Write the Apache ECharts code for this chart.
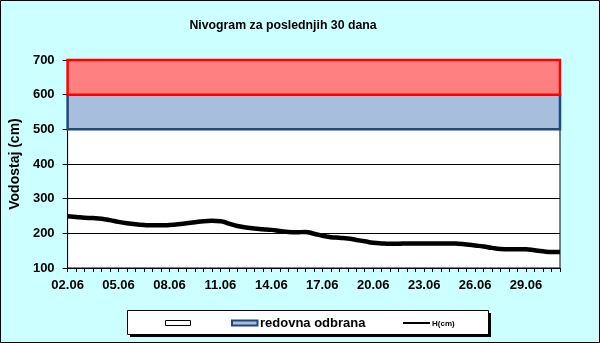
<!DOCTYPE html>
<html>
<head>
<meta charset="utf-8">
<title>Nivogram za poslednjih 30 dana</title>
<script src="https://cdn.jsdelivr.net/npm/echarts@6/dist/echarts.min.js"></script>
<style>
  html, body { margin: 0; padding: 0; background: #ccffff; }
  #chart { width: 600px; height: 343px; }
</style>
</head>
<body>
<div id="chart"></div>
<script>
// Daily dates of the 30-day window; readings are taken twice a day (00h and 12h)
const days = ['02.06','03.06','04.06','05.06','06.06','07.06','08.06','09.06','10.06','11.06',
              '12.06','13.06','14.06','15.06','16.06','17.06','18.06','19.06','20.06','21.06',
              '22.06','23.06','24.06','25.06','26.06','27.06','28.06','29.06','30.06','01.07'];
const readingHours = ['00h', '12h'];

// Water level H (cm), one value per reading
const levels = [249, 247, 245, 244, 242, 238, 233, 229, 226, 224,
                223, 223, 224, 226, 229, 232, 235, 236, 235, 228,
                221, 217, 214, 212, 210, 207, 204, 203, 204, 199,
                193, 189, 187, 185, 181, 177, 173, 171, 170, 170,
                171, 171, 171, 171, 171, 171, 170, 168, 165, 162,
                158, 155, 154, 154, 154, 151, 148, 146, 146];

// Alert bands (cm)
const regularDefence = [500, 600];   // redovna odbrana
const emergencyDefence = [600, 700];

// Value axis
const yMin = 100, yMax = 700, yStep = 100;

const categories = [];
days.forEach((d, i) => {
  readingHours.forEach((h, j) => {
    if (i < days.length - 1 || j === 0) categories.push(d + ' ' + h);
  });
});

const FONT = '"Liberation Sans", Arial, sans-serif';
const chart = echarts.init(document.getElementById('chart'), null, { renderer: 'canvas' });

chart.setOption({
  backgroundColor: '#ccffff',
  animation: false,
  title: {
    text: 'Nivogram za poslednjih 30 dana',
    left: 278, top: 15, textAlign: 'center',
    textStyle: { fontFamily: FONT, fontWeight: 'bold', fontSize: 12.3, color: '#000' }
  },
  grid: {
    left: 64, right: 40, top: 60, bottom: 75,
    show: true, backgroundColor: '#ffffff', borderColor: '#000', borderWidth: 1
  },
  xAxis: {
    type: 'category',
    data: categories,
    boundaryGap: false,
    axisLine: { lineStyle: { color: '#000', width: 1 } },
    axisTick: { interval: 0, length: 4, lineStyle: { color: '#000' } },
    axisLabel: {
      interval: 5, margin: 11, color: '#000',
      fontFamily: FONT, fontWeight: 'bold', fontSize: 13,
      formatter: v => v.slice(0, 5)
    },
    splitLine: { show: false }
  },
  yAxis: {
    type: 'value',
    min: yMin, max: yMax, interval: yStep,
    name: 'Vodostaj (cm)',
    nameLocation: 'middle', nameGap: 44, nameRotate: 90,
    nameTextStyle: { fontFamily: FONT, fontWeight: 'bold', fontSize: 14, color: '#000' },
    axisLine: { show: true, lineStyle: { color: '#000', width: 1 } },
    axisTick: { show: true, length: 5, lineStyle: { color: '#000' } },
    axisLabel: { margin: 13, color: '#000', fontFamily: FONT, fontWeight: 'bold', fontSize: 13 },
    splitLine: { show: true, lineStyle: { color: '#000', width: 1 } }
  },
  series: [
    {
      name: 'redovna odbrana',
      type: 'line',
      data: [],
      z: 3,
      markArea: {
        silent: true,
        itemStyle: { color: '#a7bedc', borderColor: '#1f497d', borderWidth: 2.5 },
        data: [[{ yAxis: regularDefence[0] }, { yAxis: regularDefence[1] }]]
      }
    },
    {
      name: 'vanredna odbrana',
      type: 'line',
      data: [],
      z: 4,
      markArea: {
        silent: true,
        itemStyle: { color: '#ff8080', borderColor: '#ff0000', borderWidth: 2.5 },
        data: [[{ yAxis: emergencyDefence[0] }, { yAxis: emergencyDefence[1] }]]
      }
    },
    {
      name: 'H(cm)',
      type: 'line',
      data: levels,
      z: 5,
      smooth: 0.5,
      showSymbol: false,
      lineStyle: { color: '#000', width: 4.5 }
    }
  ],
  graphic: [
    // outer frame
    { type: 'rect', shape: { x: 0.5, y: 0.5, width: 599, height: 342 },
      style: { fill: null, stroke: '#000', lineWidth: 1 }, z: 100 },
    // legend box with shadow
    { type: 'rect', shape: { x: 130, y: 313, width: 361, height: 24 },
      style: { fill: '#000' }, z: 10 },
    { type: 'rect', shape: { x: 127.5, y: 310.5, width: 361, height: 24 },
      style: { fill: '#fff', stroke: '#000', lineWidth: 1 }, z: 11 },
    { type: 'rect', shape: { x: 165.5, y: 320.5, width: 25, height: 5 },
      style: { fill: '#fff', stroke: '#000', lineWidth: 1 }, z: 12 },
    { type: 'rect', shape: { x: 232, y: 320.5, width: 25.5, height: 5 },
      style: { fill: '#a7bedc', stroke: '#1f497d', lineWidth: 2 }, z: 12 },
    { type: 'text', x: 260, y: 323, z: 12,
      style: { text: 'redovna odbrana', fill: '#000', font: 'bold 13px ' + FONT, textVerticalAlign: 'middle' } },
    { type: 'line', shape: { x1: 403, y1: 323, x2: 430, y2: 323 },
      style: { stroke: '#000', lineWidth: 2 }, z: 12 },
    { type: 'text', x: 432, y: 323.5, z: 12,
      style: { text: 'H(cm)', fill: '#000', font: 'bold 8px ' + FONT, textVerticalAlign: 'middle' } }
  ]
});
</script>
</body>
</html>
